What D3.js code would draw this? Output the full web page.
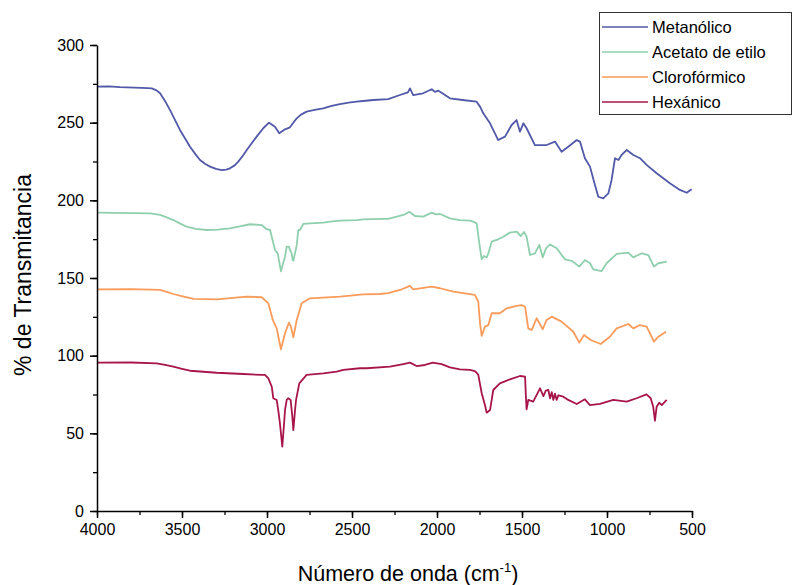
<!DOCTYPE html>
<html><head><meta charset="utf-8">
<script src="https://cdn.jsdelivr.net/npm/d3@7"></script>
<style>body{margin:0;background:#fff}svg{display:block}text{font-family:"Liberation Sans",Arial,sans-serif}</style>
</head><body><svg id="c" width="793" height="585"></svg>
<script>
const seriesNames = ["Metanólico","Acetato de etilo","Clorofórmico","Hexánico"];
const seriesColors = ["#5159a8","#8fcfae","#f99b5a","#a8154a"];
const xTicks = [4000,3500,3000,2500,2000,1500,1000,500];
const yTicks = [0,50,100,150,200,250,300];

// [wavenumber, %T]
const metanolico = [[4000,273.2],[3930,273.4],[3865,272.9],[3780,272.6],[3700,272.3],[3678,272.1],[3650,270.8],[3629,268.9],[3600,264],[3571,258.2],[3540,251.5],[3512,245.3],[3480,239.5],[3453,234.5],[3420,229.6],[3394,226],[3365,223.5],[3335,221.7],[3300,220.2],[3267,219.5],[3240,219.8],[3218,220.6],[3190,222.5],[3169,224.9],[3140,229],[3119,232.4],[3090,236.8],[3061,241],[3022,246.4],[2988,250],[2953,247.4],[2928,243.2],[2894,245.7],[2865,247],[2845,250],[2825,252.8],[2800,255.2],[2767,257.1],[2720,258.2],[2669,259.2],[2620,260.8],[2571,262],[2520,262.9],[2473,263.5],[2420,264.1],[2375,264.6],[2287,265.2],[2218,267.8],[2171,269.5],[2159,272.1],[2140,267.8],[2082,268.9],[2031,271.5],[2012,269.8],[1992,270.6],[1973,269.3],[1924,265.7],[1850,264.6],[1767,263.5],[1745,260],[1728,256],[1688,249.6],[1640,238.8],[1600,241],[1561,248.5],[1532,251.7],[1512,244.2],[1492,249.6],[1473,246.4],[1424,235.6],[1355,235.6],[1306,237.8],[1267,231.3],[1228,234.5],[1178,238.8],[1159,237.8],[1130,227.1],[1100,221.7],[1071,209.9],[1051,202.3],[1022,201.3],[992,204.5],[973,213.1],[953,227.1],[933,226],[914,229.2],[884,232.4],[845,229.2],[806,227.1],[767,222.8],[708,217.4],[630,211],[571,206.7],[531,204.9],[502,207.1]];

const acetato = [[4000,192.1],[3688,191.6],[3629,190.6],[3590,189],[3551,187.3],[3510,185],[3472,183],[3420,181.6],[3355,180.9],[3290,181.2],[3218,182],[3160,183.3],[3100,184.6],[3031,184.1],[3002,181.4],[2982,180.9],[2972,176.6],[2953,168],[2937,165.9],[2918,154.3],[2894,163.7],[2884,170.2],[2871,170.2],[2865,168],[2855,165.9],[2849,161.6],[2845,161.1],[2835,166],[2825,171.3],[2816,180.9],[2806,181],[2787,184.8],[2747,185.2],[2669,185.6],[2629,186.3],[2571,186.9],[2473,187.3],[2434,187.8],[2316,188],[2287,188],[2198,190.6],[2163,192.7],[2130,189.9],[2081,189.5],[2031,192.1],[2006,191],[1982,191.2],[1924,188.4],[1865,187.3],[1806,186.9],[1787,186.3],[1767,185.2],[1764,183],[1751,172.3],[1737,162],[1724,164.2],[1708,163.3],[1698,165.9],[1678,173.4],[1640,174.9],[1610,176.6],[1571,179.2],[1531,179.8],[1508,177],[1488,179.6],[1473,176.6],[1453,164.8],[1424,165.9],[1398,171.3],[1378,163.3],[1359,169.1],[1335,171.6],[1296,169.1],[1247,162],[1208,161.1],[1163,157.3],[1130,161.6],[1100,159.5],[1081,155.6],[1031,154.5],[1002,159.5],[943,165.5],[875,166.3],[845,163.3],[796,165.9],[757,164.8],[724,157.3],[698,159.5],[649,160.5]];

const cloroformico = [[4000,142.7],[3800,142.9],[3629,142.3],[3590,141],[3551,139.7],[3490,138],[3431,136.5],[3296,136.3],[3200,137.2],[3119,138],[3031,137.6],[2992,133.7],[2966,123],[2943,117.6],[2918,104.1],[2894,114.4],[2871,121.2],[2859,118.7],[2845,111.8],[2825,123],[2796,133.7],[2747,136.9],[2571,138],[2434,139.5],[2335,139.7],[2287,140.2],[2218,142.3],[2159,144.9],[2140,142.7],[2031,144.4],[1982,143.4],[1904,141.2],[1777,139.1],[1757,134.7],[1747,120.8],[1737,112.7],[1718,118.7],[1698,119.7],[1678,127.3],[1630,127.3],[1590,130.5],[1531,132],[1502,132.6],[1482,131.5],[1463,117.6],[1443,116.5],[1414,124.1],[1378,117],[1355,123],[1325,125.1],[1267,121.9],[1198,115.4],[1163,108.4],[1135,113.3],[1096,110.1],[1037,107.5],[983,112.2],[943,117.6],[875,120.4],[845,117.6],[806,119.7],[767,118.7],[747,114.4],[724,109],[698,112.2],[653,115.4]];

const hexanico = [[4000,95.5],[3800,95.6],[3649,95.1],[3600,94],[3551,92.9],[3500,91.5],[3453,90.3],[3296,89],[3139,88.2],[3031,87.6],[3012,87.6],[2992,85.4],[2972,80],[2963,72.6],[2943,71.5],[2934,65],[2924,56.5],[2910,41.4],[2898,58.6],[2894,65],[2884,71.5],[2875,72.6],[2861,71.5],[2851,60.7],[2845,52.1],[2835,65],[2829,71.5],[2810,82.2],[2767,87.6],[2669,88.6],[2590,89.7],[2551,90.8],[2453,91.9],[2414,91.9],[2277,92.9],[2198,94.6],[2159,95.5],[2120,93.3],[2071,94],[2025,95.5],[1973,94.6],[1924,92.5],[1865,91.2],[1806,90.8],[1777,90.1],[1767,89],[1757,87.6],[1737,75.8],[1718,68.2],[1708,63.3],[1688,65],[1669,77.9],[1630,82.2],[1571,84.8],[1512,86.9],[1482,86.5],[1477,73.6],[1473,65.5],[1463,71.5],[1434,70.4],[1394,79],[1374,74],[1360,77.5],[1345,77.9],[1335,72.5],[1325,76.5],[1316,71.5],[1306,75.5],[1296,71.5],[1286,74.5],[1257,73.6],[1228,71.5],[1178,68.9],[1130,71.9],[1100,68.2],[1041,68.9],[963,71.5],[884,70.4],[826,72.6],[767,75.1],[743,72.6],[728,67.1],[718,58.1],[708,67.1],[693,69.7],[678,68.2],[649,71.5]];

const allSeries = [metanolico, acetato, cloroformico, hexanico];

const svg = d3.select("#c");
const x = d3.scaleLinear().domain([4000,500]).range([97,692]);
const y = d3.scaleLinear().domain([0,300]).range([511,45]);

const line = d3.line().x(d=>x(d[0])).y(d=>y(d[1]));
allSeries.forEach((s,i)=>{
  svg.append("path").datum(s).attr("d",line).attr("fill","none")
    .attr("stroke",seriesColors[i]).attr("stroke-width",1.8).attr("stroke-linejoin","round");
});

// minor ticks
const xMinor = d3.range(4000,499,-250);
const yMinor = d3.range(0,301,25);
svg.append("g").attr("transform","translate(0,511)")
  .call(d3.axisBottom(x).tickValues(xMinor).tickSize(4).tickFormat(""))
  .call(g=>g.select(".domain").remove()).selectAll("line").attr("stroke","#000").attr("stroke-width",1.3);
svg.append("g").attr("transform","translate(97,0)")
  .call(d3.axisLeft(y).tickValues(yMinor).tickSize(4).tickFormat(""))
  .call(g=>g.select(".domain").remove()).selectAll("line").attr("stroke","#000").attr("stroke-width",1.3);

const gx = svg.append("g").attr("transform","translate(0,511)")
  .call(d3.axisBottom(x).tickValues(xTicks).tickSize(7).tickSizeOuter(0).tickPadding(6).tickFormat(d3.format("d")));
gx.select(".domain").attr("stroke","#000").attr("stroke-width",1.5);
gx.selectAll("line").attr("stroke","#000").attr("stroke-width",1.5);
gx.selectAll("text").attr("font-size",16).attr("fill","#000").attr("font-family","Liberation Sans, Arial, sans-serif");

const gy = svg.append("g").attr("transform","translate(97,0)")
  .call(d3.axisLeft(y).tickValues(yTicks).tickSize(7).tickSizeOuter(0).tickPadding(6).tickFormat(d3.format("d")));
gy.select(".domain").attr("stroke","#000").attr("stroke-width",1.5);
gy.selectAll("line").attr("stroke","#000").attr("stroke-width",1.5);
gy.selectAll("text").attr("font-size",16).attr("fill","#000").attr("font-family","Liberation Sans, Arial, sans-serif");

// axis titles
svg.append("text").attr("transform","translate(31,275) rotate(-90)").attr("text-anchor","middle")
  .attr("font-size",23).attr("fill","#000").text("% de Transmitancia");
const xt = svg.append("text").attr("x",408).attr("y",581).attr("text-anchor","middle")
  .attr("font-size",21.5).attr("fill","#000");
xt.append("tspan").text("Número de onda (cm");
xt.append("tspan").attr("font-size",13).attr("dy",-9).text("-1");
xt.append("tspan").attr("dy",9).text(")");

// legend
const lg = svg.append("g");
lg.append("rect").attr("x",599.5).attr("y",12.5).attr("width",192).attr("height",102)
  .attr("fill","#fff").attr("stroke","#333").attr("stroke-width",1);
seriesNames.forEach((n,i)=>{
  const yy = 27 + i*25;
  lg.append("line").attr("x1",602).attr("x2",648).attr("y1",yy).attr("y2",yy)
    .attr("stroke",seriesColors[i]).attr("stroke-width",1.7);
  lg.append("text").attr("x",652).attr("y",yy+6).attr("font-size",16.5).attr("fill","#000").text(n);
});
</script></body></html>
